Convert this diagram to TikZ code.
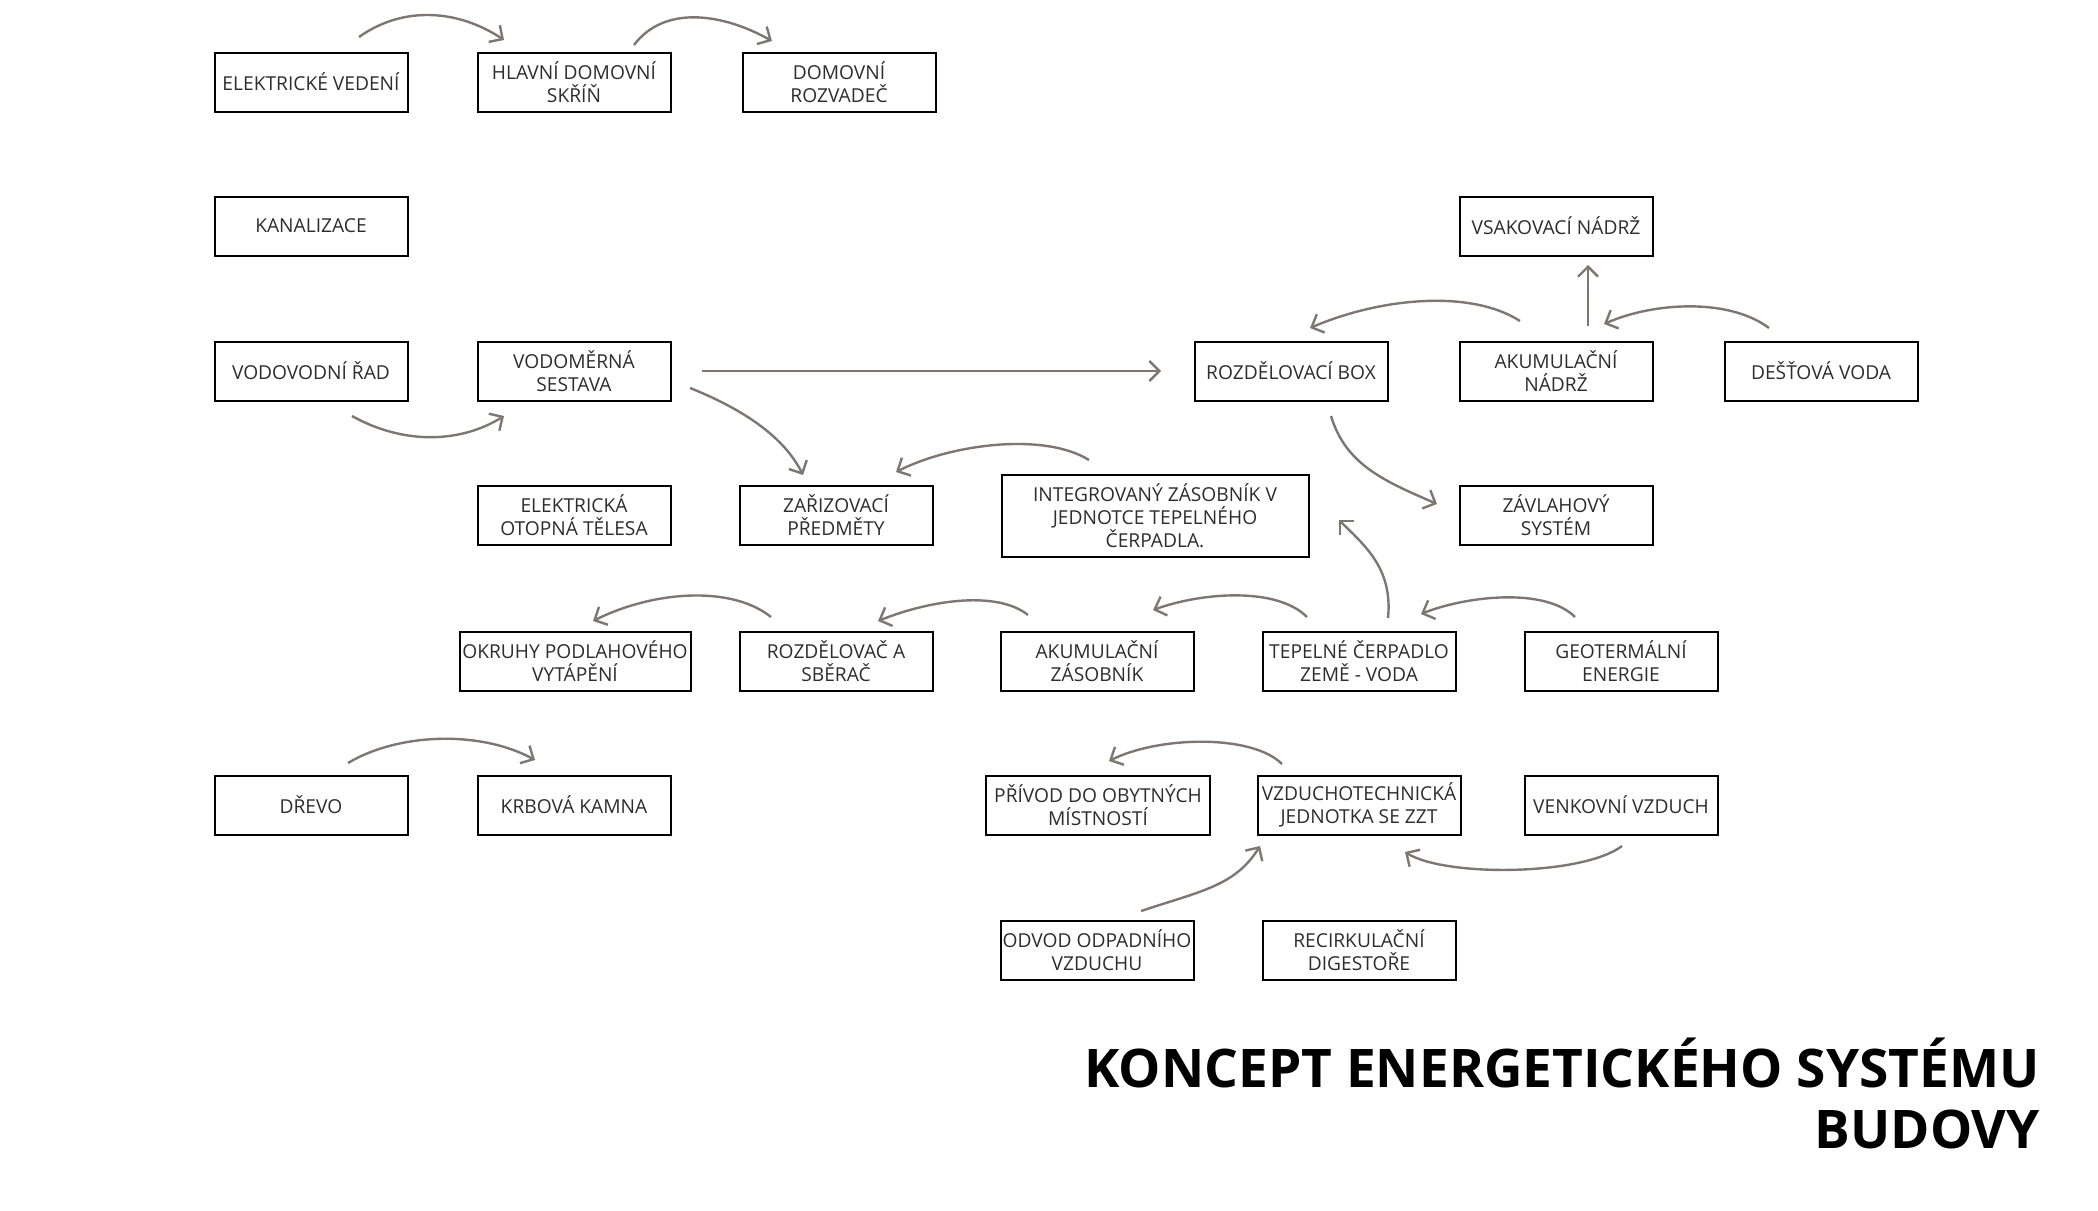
\documentclass[tikz,border=0pt]{standalone}
\usepackage{fontspec}
\setmainfont{Open Sans}
\usetikzlibrary{arrows.meta,calc}

\definecolor{arrowgray}{RGB}{125,119,112}
\definecolor{labelgray}{RGB}{45,45,45}

\tikzset{
  box/.style={draw=black, line width=1pt, minimum width=96.5pt, minimum height=29.5pt,
    inner sep=1pt, align=center, text=labelgray, font=\fontsize{9.6}{11.5}\selectfont},
  widebox/.style={box, minimum width=#1},
  flow/.style={draw=arrowgray, line width=1.2pt, -{Straight Barb[length=5pt,width=10pt]}}
}

\begin{document}
\begin{tikzpicture}[x=0.5pt,y=-0.5pt]
\useasboundingbox (0,0) rectangle (2098,1210);

% electricity
\node[box] (elved) at (311,82) {ELEKTRICKÉ VEDENÍ};
\node[box] (hlavni) at (574,82) {HLAVNÍ DOMOVNÍ\\SKŘÍŇ};
\node[box] (rozvad) at (839,82) {DOMOVNÍ\\ROZVADEČ};
\node[box] (kanal) at (311,226) {KANALIZACE};

% water
\node[box] (vsak) at (1556,226) {VSAKOVACÍ NÁDRŽ};
\node[box] (vodrad) at (311,371) {VODOVODNÍ ŘAD};
\node[box] (vodomer) at (574,371) {VODOMĚRNÁ\\SESTAVA};
\node[box] (rozbox) at (1291,371) {ROZDĚLOVACÍ BOX};
\node[box] (aknadrz) at (1556,371) {AKUMULAČNÍ\\NÁDRŽ};
\node[box] (destova) at (1821,371) {DEŠŤOVÁ VODA};
\node[box] (otopna) at (574,515) {ELEKTRICKÁ\\OTOPNÁ TĚLESA};
\node[box] (zariz) at (836,515) {ZAŘIZOVACÍ\\PŘEDMĚTY};
\node[widebox=153.5pt, minimum height=41pt] (integ) at (1155,516) {INTEGROVANÝ ZÁSOBNÍK V\\JEDNOTCE TEPELNÉHO\\ČERPADLA.};
\node[box] (zavlah) at (1556,515) {ZÁVLAHOVÝ\\SYSTÉM};

% heating
\node[widebox=115.5pt] (okruhy) at (575,661) {OKRUHY PODLAHOVÉHO\\VYTÁPĚNÍ};
\node[box] (rozdsb) at (836,661) {ROZDĚLOVAČ A\\SBĚRAČ};
\node[box] (akzas) at (1097,661) {AKUMULAČNÍ\\ZÁSOBNÍK};
\node[box] (tepel) at (1359,661) {TEPELNÉ ČERPADLO\\ZEMĚ - VODA};
\node[box] (geo) at (1621,661) {GEOTERMÁLNÍ\\ENERGIE};
\node[box] (drevo) at (311,805) {DŘEVO};
\node[box] (krbova) at (574,805) {KRBOVÁ KAMNA};

% air
\node[widebox=112pt] (privod) at (1098,805) {PŘÍVOD DO OBYTNÝCH\\MÍSTNOSTÍ};
\node[widebox=101.5pt] (vzt) at (1359,805) {VZDUCHOTECHNICKÁ\\JEDNOTKA SE ZZT};
\node[box] (venk) at (1621,805) {VENKOVNÍ VZDUCH};
\node[box] (odvod) at (1097,950) {ODVOD ODPADNÍHO\\VZDUCHU};
\node[box] (recirk) at (1359,950) {RECIRKULAČNÍ\\DIGESTOŘE};

\node[anchor=north east, align=right, inner sep=0pt, text=black,
  font=\fontsize{26.6}{30.5}\selectfont\bfseries] (titul) at (2040,1038)
  {KONCEPT ENERGETICKÉHO SYSTÉMU\\BUDOVY};

% connectors
\draw[flow] ($(elved)+(48,-45)$) .. controls +(45,-32) and +(-45,-30) .. ($(hlavni)+(-70,-42)$);
\draw[flow] ($(hlavni)+(60,-37)$) .. controls +(30,-40) and +(-50,-28) .. ($(rozvad)+(-67,-41)$);
\draw[flow] ($(vodrad)+(41,45)$) .. controls +(50,28) and +(-45,28) .. ($(vodomer)+(-70,45)$);
\draw[flow] ($(vodomer)+(128,0)$) -- ($(rozbox)+(-130,0)$);
\draw[flow] ($(vodomer)+(116,17)$) .. controls +(50,20) and +(-20,-40) .. ($(zariz)+(-33,-40)$);
\draw[flow] ($(integ)+(-66,-56)$) .. controls +(-45,-28) and +(55,-28) .. ($(zariz)+(60,-43)$);
\draw[flow] ($(aknadrz)+(-36,-50)$) .. controls +(-50,-32) and +(70,-30) .. ($(rozbox)+(19,-43)$);
\draw[flow] ($(aknadrz)+(32,-45)$) -- ($(vsak)+(32,39)$);
\draw[flow] ($(destova)+(-52,-43)$) .. controls +(-40,-30) and +(50,-22) .. ($(aknadrz)+(48,-47)$);
\draw[flow] ($(rozbox)+(40,45)$) .. controls +(15,50) and +(-50,-22) .. ($(zavlah)+(-119,-11)$);
\draw[flow] ($(tepel)+(29,-43)$) .. controls +(5,-50) and +(25,25) .. ($(integ)+(184,4)$);
\draw[flow] ($(rozdsb)+(-65,-44)$) .. controls +(-40,-32) and +(60,-30) .. ($(okruhy)+(18,-40)$);
\draw[flow] ($(akzas)+(-69,-46)$) .. controls +(-30,-24) and +(55,-22) .. ($(rozdsb)+(42,-40)$);
\draw[flow] ($(tepel)+(-52,-44)$) .. controls +(-30,-30) and +(50,-18) .. ($(akzas)+(56,-51)$);
\draw[flow] ($(geo)+(-46,-44)$) .. controls +(-30,-30) and +(45,-18) .. ($(tepel)+(62,-47)$);
\draw[flow] ($(drevo)+(37,-42)$) .. controls +(50,-30) and +(-55,-30) .. ($(krbova)+(-39,-45)$);
\draw[flow] ($(vzt)+(-77,-41)$) .. controls +(-30,-30) and +(50,-25) .. ($(privod)+(11,-44)$);
\draw[flow] ($(odvod)+(44,-39)$) .. controls +(60,-20) and +(-25,40) .. ($(vzt)+(-99,41)$);
\draw[flow] ($(venk)+(1,41)$) .. controls +(-40,30) and +(40,25) .. ($(vzt)+(46,47)$);
\end{tikzpicture}
\end{document}
